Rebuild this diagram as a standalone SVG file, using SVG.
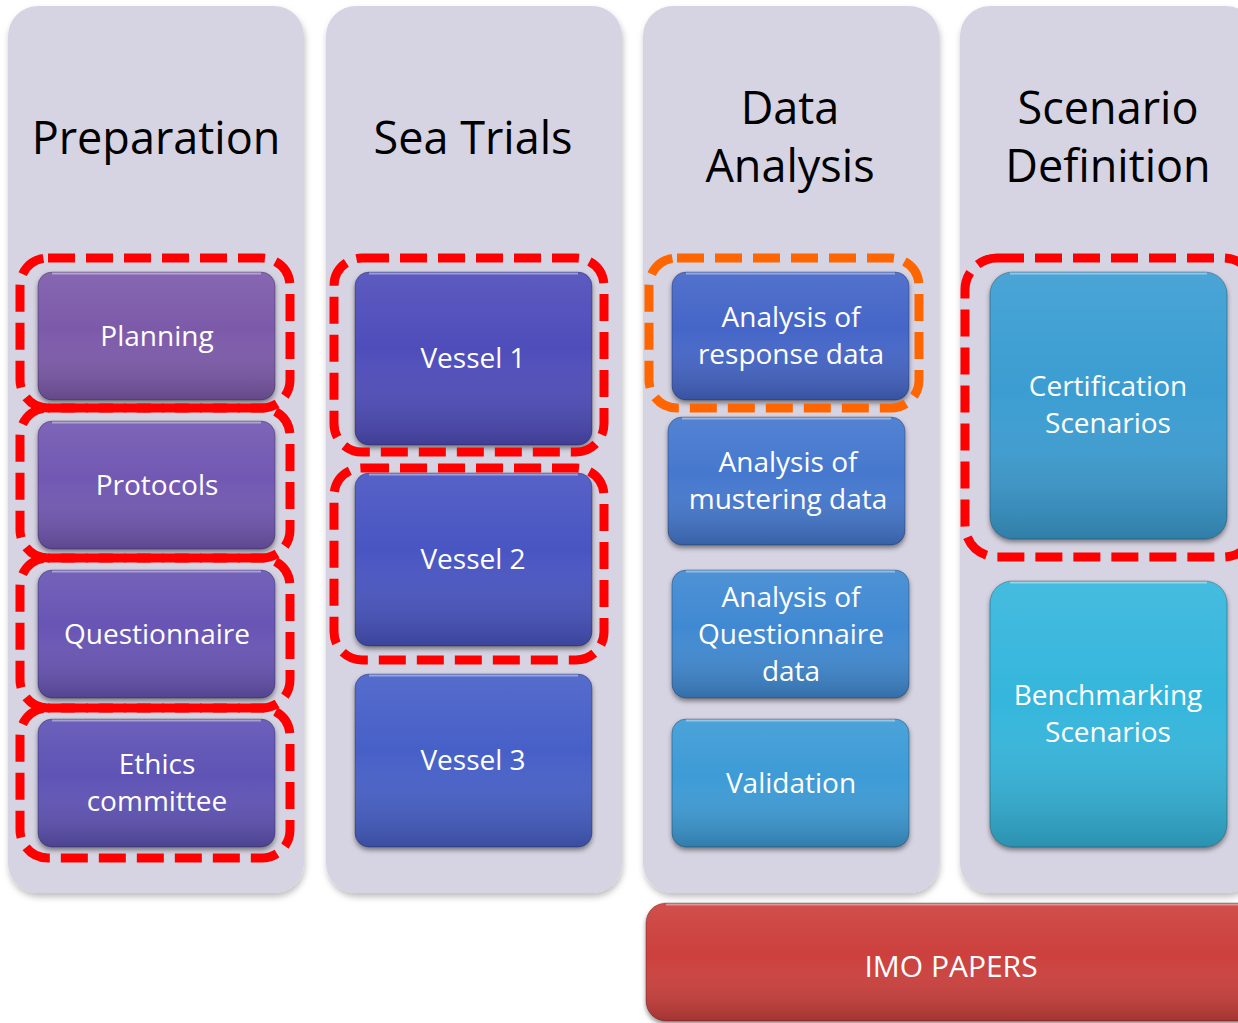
<svg xmlns="http://www.w3.org/2000/svg" width="1238" height="1023" viewBox="0 0 1238 1023">
<defs>
  <linearGradient id="shade" x1="0" y1="0" x2="0" y2="1">
    <stop offset="0" stop-color="#ffffff" stop-opacity="0.08"/>
    <stop offset="0.45" stop-color="#ffffff" stop-opacity="0"/>
    <stop offset="1" stop-color="#000000" stop-opacity="0.2"/>
  </linearGradient>
  <filter id="colShadow" x="-10%" y="-10%" width="120%" height="120%">
    <feDropShadow dx="1" dy="4" stdDeviation="3" flood-color="#000" flood-opacity="0.25"/>
  </filter>
  <filter id="nodeShadow" x="-10%" y="-10%" width="120%" height="125%">
    <feDropShadow dx="0" dy="3" stdDeviation="2.5" flood-color="#000" flood-opacity="0.45"/>
  </filter>
</defs>
<style>
  .col { fill: #D6D3E2; filter: url(#colShadow); }
  .title { font-family: "Open Sans", "Noto Sans", sans-serif; font-size: 45px; fill: #000; text-anchor: middle; }
  .node rect.base { filter: url(#nodeShadow); }
  .shade { fill: url(#shade); stroke: rgba(0,0,0,0.25); stroke-width: 1; }
  .hl { fill: none; stroke: rgba(255,255,255,0.4); stroke-width: 2; }
  .label { font-family: "Open Sans", "Noto Sans", sans-serif; font-size: 28px; fill: #fff; text-anchor: middle; }
  .dash { fill: none; stroke: #FF0000; stroke-width: 9; stroke-dasharray: 27 11; }
  .dash.orange { stroke: #FF6600; }
</style>
<rect width="1238" height="1023" fill="#ffffff"/>

<!-- columns -->
<g id="col-preparation">
  <rect class="col" x="8" y="6" width="296" height="887" rx="30"/>
  <text class="title" x="156" y="154">Preparation</text>
</g>
<g id="col-seatrials">
  <rect class="col" x="326" y="6" width="296" height="887" rx="30"/>
  <text class="title" x="473" y="154">Sea Trials</text>
</g>
<g id="col-dataanalysis">
  <rect class="col" x="643" y="6" width="296" height="887" rx="30"/>
  <text class="title" x="790" y="124">Data</text>
  <text class="title" x="790" y="182">Analysis</text>
</g>
<g id="col-scenario">
  <rect class="col" x="960" y="6" width="296" height="887" rx="30"/>
  <text class="title" x="1108" y="124">Scenario</text>
  <text class="title" x="1108" y="182">Definition</text>
</g>

<!-- Preparation nodes -->
<g id="planning" class="node">
  <rect class="base" x="38" y="272" width="237" height="128" rx="14" fill="#7C5AAA"/>
  <rect class="shade" x="38" y="272" width="237" height="128" rx="14"/>
  <path class="hl" d="M52 273.5 H261"/>
  <text class="label" x="157" y="346">Planning</text>
</g>
<g id="protocols" class="node">
  <rect class="base" x="38" y="421" width="237" height="128" rx="14" fill="#7258B2"/>
  <rect class="shade" x="38" y="421" width="237" height="128" rx="14"/>
  <path class="hl" d="M52 422.5 H261"/>
  <text class="label" x="157" y="495">Protocols</text>
</g>
<g id="questionnaire" class="node">
  <rect class="base" x="38" y="570" width="237" height="128" rx="14" fill="#6755B4"/>
  <rect class="shade" x="38" y="570" width="237" height="128" rx="14"/>
  <path class="hl" d="M52 571.5 H261"/>
  <text class="label" x="157" y="644">Questionnaire</text>
</g>
<g id="ethics" class="node">
  <rect class="base" x="38" y="719" width="237" height="128" rx="14" fill="#5F52B5"/>
  <rect class="shade" x="38" y="719" width="237" height="128" rx="14"/>
  <path class="hl" d="M52 720.5 H261"/>
  <text class="label" x="157" y="774">Ethics</text>
  <text class="label" x="157" y="811">committee</text>
</g>

<!-- Sea Trials nodes -->
<g id="vessel1" class="node">
  <rect class="base" x="355" y="272" width="237" height="173" rx="14" fill="#504EBA"/>
  <rect class="shade" x="355" y="272" width="237" height="173" rx="14"/>
  <path class="hl" d="M369 273.5 H578"/>
  <text class="label" x="473" y="368">Vessel 1</text>
</g>
<g id="vessel2" class="node">
  <rect class="base" x="355" y="473" width="237" height="173" rx="14" fill="#4A55C2"/>
  <rect class="shade" x="355" y="473" width="237" height="173" rx="14"/>
  <path class="hl" d="M369 474.5 H578"/>
  <text class="label" x="473" y="569">Vessel 2</text>
</g>
<g id="vessel3" class="node">
  <rect class="base" x="355" y="674" width="237" height="173" rx="14" fill="#4661C8"/>
  <rect class="shade" x="355" y="674" width="237" height="173" rx="14"/>
  <path class="hl" d="M369 675.5 H578"/>
  <text class="label" x="473" y="770">Vessel 3</text>
</g>

<!-- Data Analysis nodes -->
<g id="response" class="node">
  <rect class="base" x="672" y="272" width="237" height="128" rx="14" fill="#4466C8"/>
  <rect class="shade" x="672" y="272" width="237" height="128" rx="14"/>
  <path class="hl" d="M686 273.5 H895"/>
  <text class="label" x="791" y="327">Analysis of</text>
  <text class="label" x="791" y="364">response data</text>
</g>
<g id="mustering" class="node">
  <rect class="base" x="668" y="417" width="237" height="128" rx="14" fill="#4478CE"/>
  <rect class="shade" x="668" y="417" width="237" height="128" rx="14"/>
  <path class="hl" d="M682 418.5 H891"/>
  <text class="label" x="788" y="472">Analysis of</text>
  <text class="label" x="788" y="509">mustering data</text>
</g>
<g id="questionnaire-data" class="node">
  <rect class="base" x="672" y="570" width="237" height="128" rx="14" fill="#4189D2"/>
  <rect class="shade" x="672" y="570" width="237" height="128" rx="14"/>
  <path class="hl" d="M686 571.5 H895"/>
  <text class="label" x="791" y="607">Analysis of</text>
  <text class="label" x="791" y="644">Questionnaire</text>
  <text class="label" x="791" y="681">data</text>
</g>
<g id="validation" class="node">
  <rect class="base" x="672" y="719" width="237" height="128" rx="14" fill="#3E9BD6"/>
  <rect class="shade" x="672" y="719" width="237" height="128" rx="14"/>
  <path class="hl" d="M686 720.5 H895"/>
  <text class="label" x="791" y="793">Validation</text>
</g>

<!-- Scenario nodes -->
<g id="certification" class="node">
  <rect class="base" x="990" y="272" width="237" height="267" rx="22" fill="#3A9DD2"/>
  <rect class="shade" x="990" y="272" width="237" height="267" rx="22"/>
  <path class="hl" d="M1010 273.5 H1207"/>
  <text class="label" x="1108" y="396">Certification</text>
  <text class="label" x="1108" y="433">Scenarios</text>
</g>
<g id="benchmarking" class="node">
  <rect class="base" x="990" y="581" width="237" height="266" rx="22" fill="#36B6DC"/>
  <rect class="shade" x="990" y="581" width="237" height="266" rx="22"/>
  <path class="hl" d="M1010 582.5 H1207"/>
  <text class="label" x="1108" y="705">Benchmarking</text>
  <text class="label" x="1108" y="742">Scenarios</text>
</g>

<!-- IMO PAPERS -->
<g id="imo" class="node">
  <rect class="base" x="646" y="903" width="620" height="118" rx="20" fill="#CC3F3C"/>
  <rect class="shade" x="646" y="903" width="620" height="118" rx="20"/>
  <path class="hl" d="M666 904.5 H1238"/>
  <text class="label" x="951" y="977" style="font-size:30px">IMO PAPERS</text>
</g>

<!-- dashed groupings -->
<g id="connectors">
  <rect class="dash" x="20" y="258" width="270" height="150" rx="28"/>
  <rect class="dash" x="20" y="408" width="270" height="150" rx="28"/>
  <rect class="dash" x="20" y="558" width="270" height="150" rx="28"/>
  <rect class="dash" x="20" y="708" width="270" height="150" rx="28"/>
  <rect class="dash" x="334" y="258" width="270" height="194" rx="28"/>
  <rect class="dash" x="334" y="468" width="270" height="192" rx="28"/>
  <rect class="dash orange" x="649" y="258" width="270" height="150" rx="28"/>
  <rect class="dash" x="965" y="258" width="290" height="299" rx="32"/>
</g>
</svg>
